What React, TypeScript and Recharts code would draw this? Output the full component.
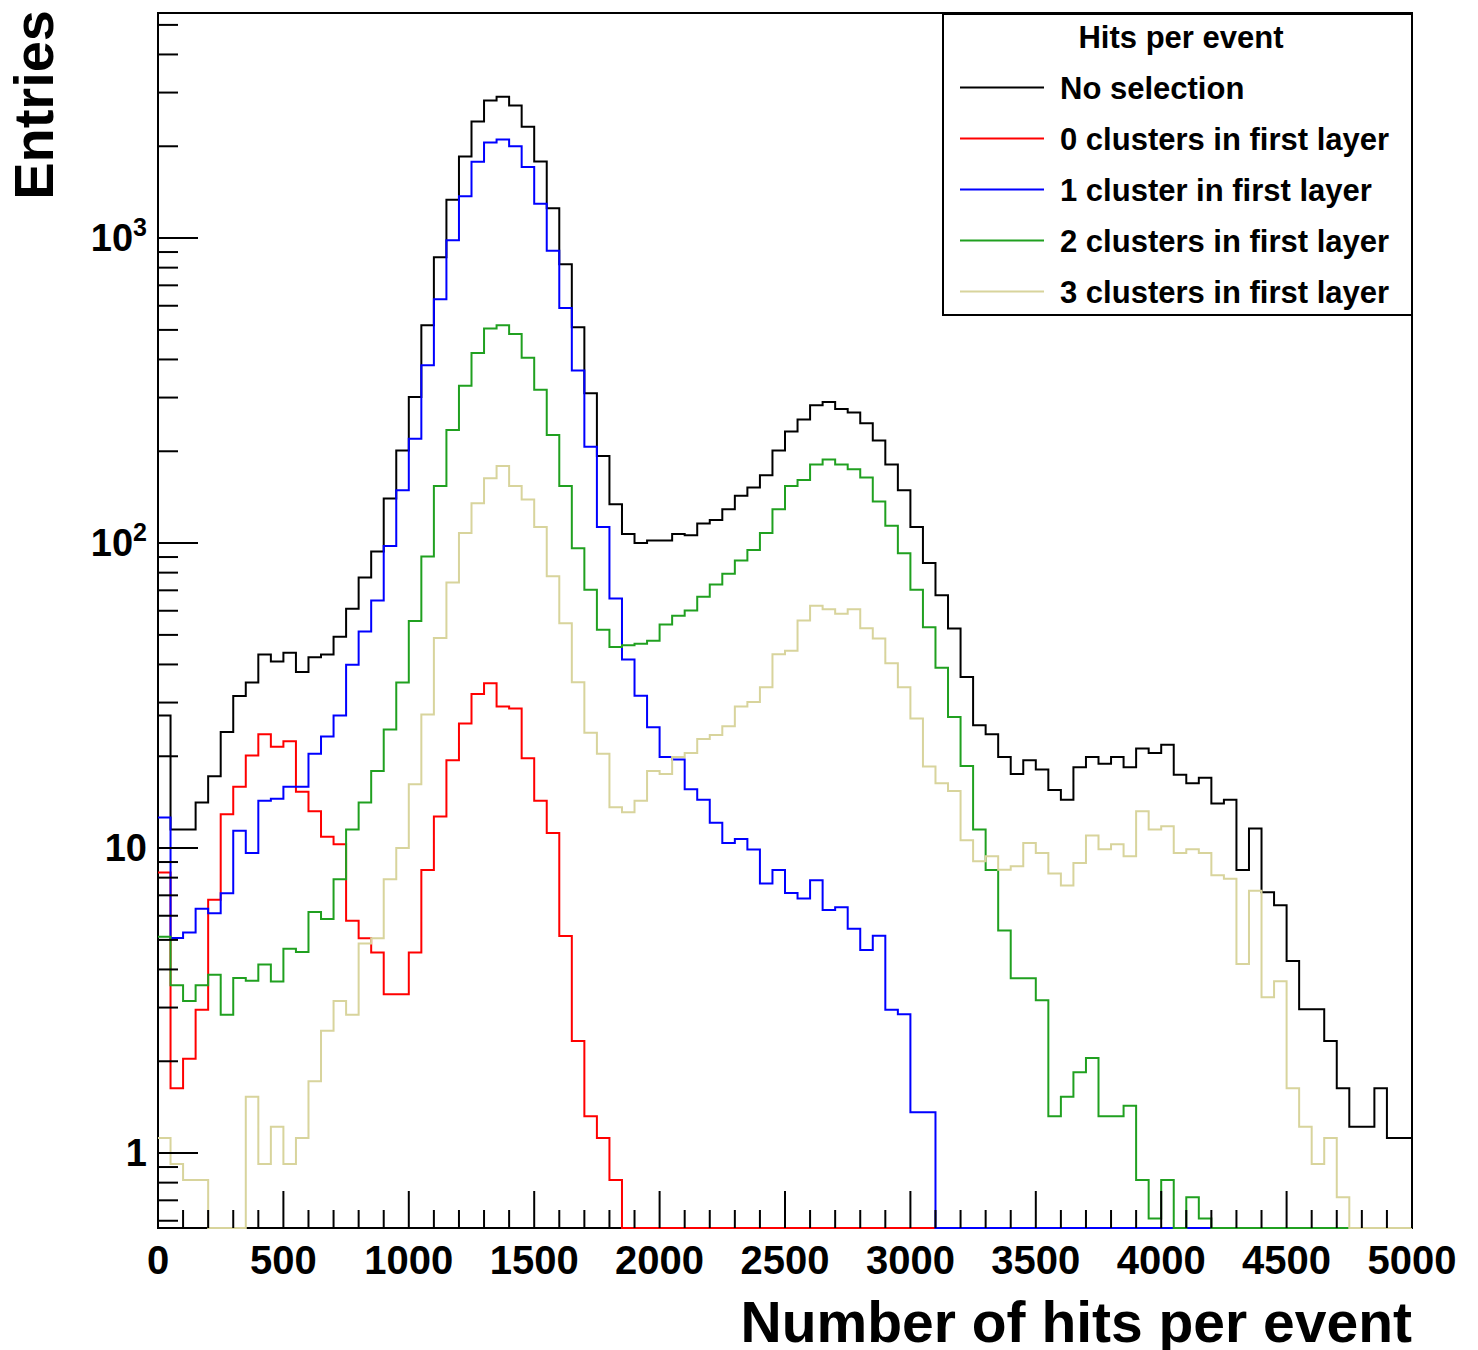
import React from 'react'
import {
  LineChart,
  Line,
  XAxis,
  YAxis,
  ReferenceArea,
  Legend,
} from 'recharts'

// histogram binning: 100 bins of 50 hits, 0..5000
const BIN_WIDTH = 50
const X_MAX = 5000
const BIN_LOW = Array.from({ length: X_MAX / BIN_WIDTH }, (_, i) => i * BIN_WIDTH)

const X_TICKS = Array.from({ length: 51 }, (_, i) => i * 100)
const Y_TICKS = [
  0.6, 0.7, 0.8, 0.9,
  1, 2, 3, 4, 5, 6, 7, 8, 9,
  10, 20, 30, 40, 50, 60, 70, 80, 90,
  100, 200, 300, 400, 500, 600, 700, 800, 900,
  1000, 2000, 3000, 4000, 5000,
]
const Y_MIN = 0.568
const Y_MAX = 5470

const NO_SELECTION = [
  27.2, 11.5, 11.5, 14.1, 17.2, 24, 31.5, 34.9, 43.1, 40.9,
  43.7, 37.8, 42.2, 43.1, 49.3, 60.9, 77.1, 93.8, 140, 201,
  301, 518, 865, 1336, 1853, 2410, 2827, 2904, 2723, 2316,
  1783, 1252, 821, 510, 310, 193, 134, 107, 100, 102,
  102, 107, 106, 116, 119, 129, 143, 152, 167, 201,
  232, 254, 283, 290, 275, 268, 247, 217, 181, 149,
  113, 86, 67.5, 52.5, 36.4, 25.3, 23.6, 19.9, 17.5, 19.4,
  18.1, 15.5, 14.4, 18.4, 19.9, 18.9, 19.9, 18.4, 21.2, 20.5,
  21.8, 17.4, 16.3, 17.0, 14.0, 14.4, 8.47, 11.6, 7.16, 6.49,
  4.26, 2.96, 2.96, 2.33, 1.63, 1.22, 1.22, 1.63, 1.12, 1.12,
]

const ZERO_CLUSTERS = [
  8.32, 1.63, 2.04, 2.95, 6.77, 12.9, 15.9, 20.1, 23.6, 21.5,
  22.4, 15.3, 13.2, 10.9, 10.3, 5.78, 5.06, 4.55, 3.32, 3.32,
  4.55, 8.47, 12.7, 19.4, 25.6, 32, 34.7, 29.1, 28.7, 19.7,
  14.3, 11.2, 5.15, 2.33, 1.32, 1.12, 0.816, 0, 0, 0,
  0, 0, 0, 0, 0, 0, 0, 0, 0, 0,
  0, 0, 0, 0, 0, 0, 0, 0, 0, 0,
  0, 0, 0, 0, 0, 0, 0, 0, 0, 0,
  0, 0, 0, 0, 0, 0, 0, 0, 0, 0,
  0, 0, 0, 0, 0, 0, 0, 0, 0, 0,
  0, 0, 0, 0, 0, 0, 0, 0, 0, 0,
]

const ONE_CLUSTER = [
  12.6, 5.07, 5.29, 6.32, 6.11, 7.11, 11.4, 9.64, 14.3, 14.5,
  15.9, 15.9, 20.4, 23.2, 27.2, 39.9, 51.3, 64.8, 97.9, 149,
  220, 383, 630, 984, 1371, 1779, 2059, 2105, 2001, 1709,
  1297, 909, 590, 368, 207, 113, 65.8, 41.5, 31.6, 24.9,
  19.9, 19.5, 15.6, 14.4, 12.1, 10.4, 10.7, 9.89, 7.66, 8.47,
  7.12, 6.84, 7.85, 6.26, 6.4, 5.44, 4.63, 5.16, 2.95, 2.85,
  1.36, 1.36, 0, 0, 0, 0, 0, 0, 0, 0,
  0, 0, 0, 0, 0, 0, 0, 0, 0, 0,
  0, 0, 0, 0, 0, 0, 0, 0, 0, 0,
  0, 0, 0, 0, 0, 0, 0, 0, 0, 0,
]

const TWO_CLUSTERS = [
  5.12, 3.55, 3.15, 3.55, 3.84, 2.84, 3.75, 3.67, 4.15, 3.65,
  4.68, 4.56, 6.17, 5.85, 7.91, 11.5, 14.1, 17.9, 24.5, 34.9,
  55.5, 90.3, 154, 235, 328, 420, 505, 518, 485, 405,
  318, 226, 154, 96.2, 70.3, 52, 45.6, 46.2, 46.8, 47.8,
  54.1, 57.8, 60.1, 66.7, 73.1, 79.3, 87.6, 95, 108, 129,
  154, 161, 181, 188, 181, 174.5, 164, 137, 114, 92.6,
  70.3, 53, 39, 26.9, 18.6, 11.5, 8.47, 5.37, 3.74, 3.74,
  3.17, 1.32, 1.53, 1.84, 2.05, 1.32, 1.32, 1.43, 0.816, 0.61,
  0.816, 0, 0.716, 0.61, 0, 0, 0, 0, 0, 0,
  0, 0, 0, 0, 0, 0, 0, 0, 0, 0,
]

const THREE_CLUSTERS = [
  1.12, 0.92, 0.816, 0.816, 0, 0, 0, 1.53, 0.92, 1.22,
  0.92, 1.12, 1.72, 2.52, 3.15, 2.84, 4.87, 5.06, 7.91, 10.0,
  16.2, 27.4, 48.8, 74.3, 108, 135, 163, 179, 154, 139,
  113, 77.8, 54.6, 35, 23.9, 20.4, 13.6, 13.1, 14.3, 17.9,
  17.5, 19.9, 20.5, 22.8, 23.5, 25.1, 29.1, 30.1, 33.7, 43.2,
  44.4, 55.7, 62.3, 60.7, 58.6, 60.7, 52.6, 48.7, 40.4, 33.7,
  26.6, 18.5, 16.3, 15.4, 10.6, 9.06, 9.41, 8.49, 8.71, 10.4,
  9.64, 8.26, 7.54, 8.93, 11.0, 9.92, 10.3, 9.41, 13.2, 11.5,
  11.8, 9.64, 9.92, 9.64, 8.15, 7.93, 4.17, 7.24, 3.24, 3.66,
  1.63, 1.22, 0.92, 1.12, 0.716, 0, 0, 0, 0, 0,
]

const SERIES = [
  { key: 'noSel', name: 'No selection', color: '#000000', values: NO_SELECTION },
  { key: 'c0', name: '0 clusters in first layer', color: '#ff0000', values: ZERO_CLUSTERS },
  { key: 'c1', name: '1 cluster in first layer', color: '#0000ff', values: ONE_CLUSTER },
  { key: 'c2', name: '2 clusters in first layer', color: '#20a020', values: TWO_CLUSTERS },
  { key: 'c3', name: '3 clusters in first layer', color: '#d8d49c', values: THREE_CLUSTERS },
]

const FONT = '"Liberation Sans", Arial, Helvetica, sans-serif'

// empty bins sit on the bottom of the log axis, like ROOT draws them
const onAxis = (v: number) => (v > 0 ? v : Y_MIN)

// one point per lower bin edge, plus the closing edge at 5000 for stepAfter
const chartData = [...BIN_LOW, X_MAX].map((x, i) => {
  const j = Math.min(i, BIN_LOW.length - 1)
  const row: Record<string, number> = { x }
  SERIES.forEach(s => {
    row[s.key] = onAxis(s.values[j])
  })
  return row
})

const isDecade = (v: number) => [1, 10, 100, 1000].includes(v)

function YTick({ x, y, payload }: any) {
  const v = payload.value
  const major = isDecade(v)
  let label: React.ReactNode = null
  if (v === 1 || v === 10) label = String(v)
  if (v === 100 || v === 1000) {
    label = (
      <>
        <tspan>10</tspan>
        <tspan dy={-15} fontSize={25}>{v === 100 ? '2' : '3'}</tspan>
      </>
    )
  }
  return (
    <g>
      <line x1={x} x2={x + (major ? 40 : 20)} y1={y} y2={y} stroke="#000" strokeWidth={2} />
      {label && (
        <text
          x={x - 11}
          y={y + 13}
          textAnchor="end"
          fontFamily={FONT}
          fontWeight="bold"
          fontSize={38}
          fill="#000"
        >
          {label}
        </text>
      )}
    </g>
  )
}

function XTick({ x, y, payload }: any) {
  const v = payload.value
  const major = v % 500 === 0
  return (
    <g>
      <line x1={x} x2={x} y1={y} y2={y - (major ? 37 : 18)} stroke="#000" strokeWidth={2} />
      {major && (
        <text
          x={x}
          y={y + 46}
          textAnchor="middle"
          fontFamily={FONT}
          fontWeight="bold"
          fontSize={40}
          fill="#000"
        >
          {v}
        </text>
      )}
    </g>
  )
}

function XTitle({ viewBox }: any) {
  return (
    <text
      x={viewBox.x + viewBox.width}
      y={viewBox.y + 114}
      textAnchor="end"
      fontFamily={FONT}
      fontWeight="bold"
      fontSize={57}
      fill="#000"
    >
      Number of hits per event
    </text>
  )
}

function YTitle({ viewBox }: any) {
  const x = viewBox.x + 53
  const y = viewBox.y - 3
  return (
    <text
      x={x}
      y={y}
      transform={`rotate(-90, ${x}, ${y})`}
      textAnchor="end"
      fontFamily={FONT}
      fontWeight="bold"
      fontSize={56}
      fill="#000"
    >
      Entries
    </text>
  )
}

function LegendBox() {
  return (
    <div
      style={{
        width: 471,
        height: 303,
        boxSizing: 'border-box',
        border: '2px solid #000',
        background: '#fff',
      }}
    >
      <svg width={467} height={299}>
        <text
          x={237}
          y={33}
          textAnchor="middle"
          fontFamily={FONT}
          fontWeight="bold"
          fontSize={31}
          fill="#000"
        >
          Hits per event
        </text>
        {SERIES.map((s, i) => {
          const cy = 72.5 + i * 51
          return (
            <g key={s.key}>
              <line x1={16} x2={100} y1={cy} y2={cy} stroke={s.color} strokeWidth={2} />
              <text
                x={116}
                y={cy + 11}
                fontFamily={FONT}
                fontWeight="bold"
                fontSize={31}
                fill="#000"
              >
                {s.name}
              </text>
            </g>
          )
        })}
      </svg>
    </div>
  )
}

export default function App() {
  return (
    <div style={{ position: 'absolute', left: 0, top: 0, width: 1478, height: 1350, background: '#fff' }}>
      <LineChart
        width={1478}
        height={1350}
        data={chartData}
        margin={{ top: 13, right: 66, bottom: 62, left: 0 }}
      >
        <XAxis
          dataKey="x"
          type="number"
          domain={[0, X_MAX]}
          ticks={X_TICKS}
          interval={0}
          height={60}
          tickSize={0}
          tickMargin={0}
          tickLine={false}
          axisLine={false}
          tick={<XTick />}
          label={<XTitle />}
        />
        <YAxis
          type="number"
          scale="log"
          domain={[Y_MIN, Y_MAX]}
          ticks={Y_TICKS}
          interval={0}
          width={158}
          tickSize={0}
          tickMargin={0}
          tickLine={false}
          axisLine={false}
          tick={<YTick />}
          label={<YTitle />}
        />
        {/* frame of the pad; drawn under the histograms so empty bins show on the axis */}
        <ReferenceArea
          x1={0}
          x2={X_MAX}
          y1={Y_MIN}
          y2={Y_MAX}
          fill="none"
          fillOpacity={0}
          stroke="#000"
          strokeWidth={2}
          strokeOpacity={1}
        />
        {SERIES.map(s => (
          <Line
            key={s.key}
            dataKey={s.key}
            name={s.name}
            type="stepAfter"
            stroke={s.color}
            strokeWidth={2}
            dot={false}
            activeDot={false}
            isAnimationActive={false}
          />
        ))}
        <Legend
          layout="vertical"
          align="center"
          verticalAlign="middle"
          content={() => <LegendBox />}
          wrapperStyle={{ left: 942, top: 13, width: 471, height: 303 }}
        />
      </LineChart>
    </div>
  )
}
